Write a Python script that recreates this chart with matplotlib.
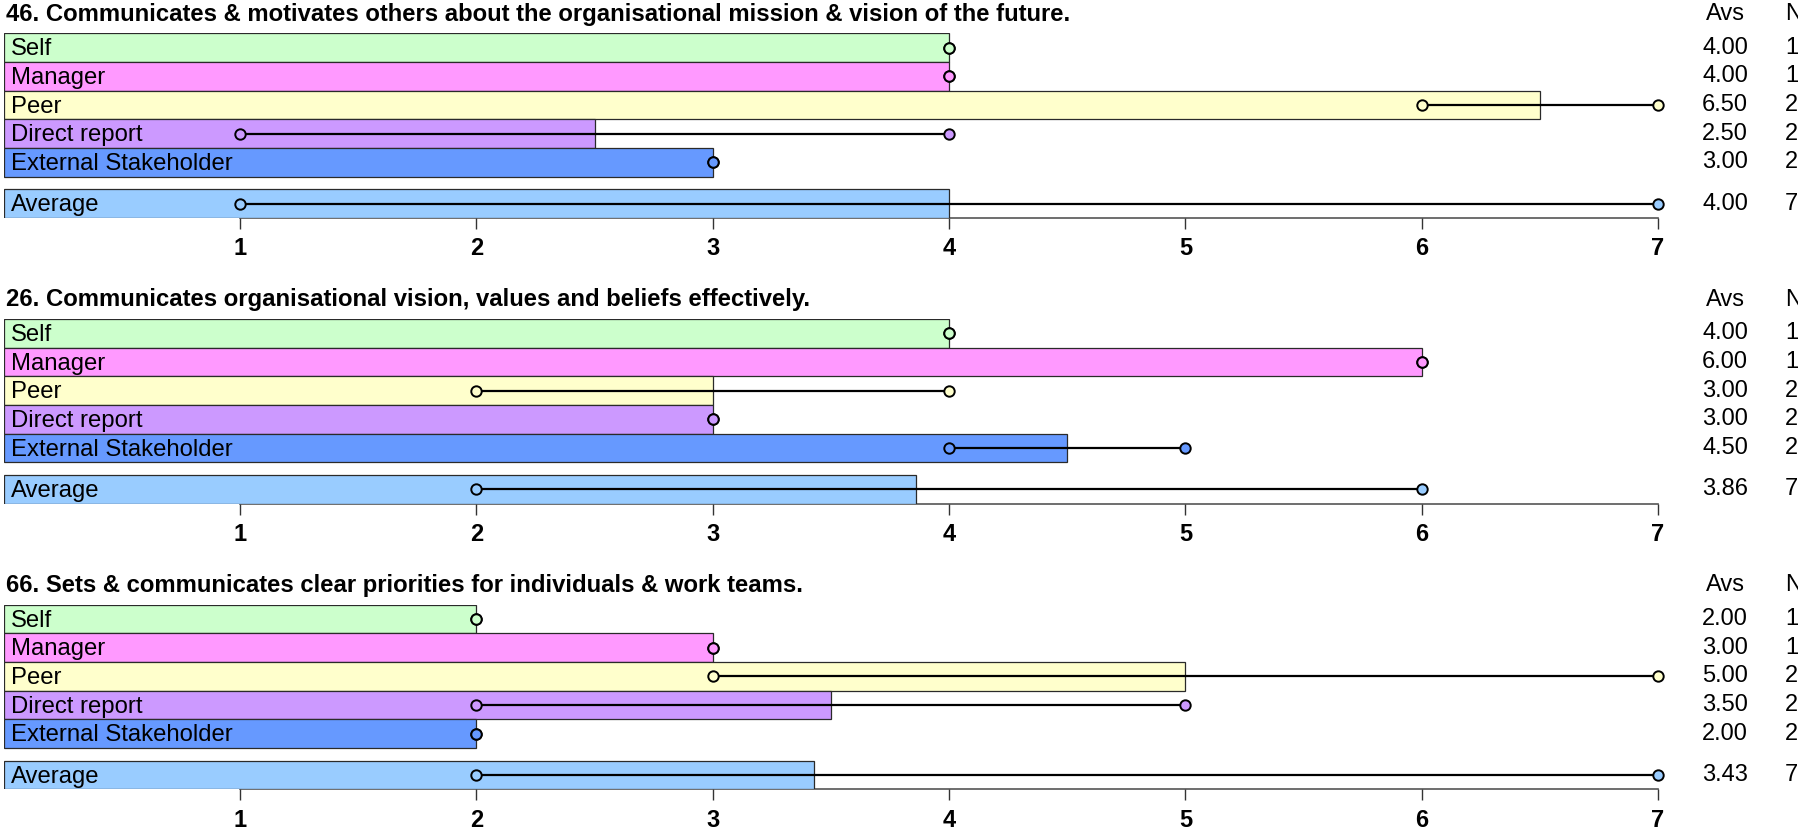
import matplotlib
matplotlib.use("Agg")
import matplotlib.pyplot as plt
from matplotlib.transforms import blended_transform_factory

plt.rcParams['font.family'] = ['Liberation Sans', 'DejaVu Sans']

# Rater groups and their bar colours
groups = ["Self", "Manager", "Peer", "Direct report", "External Stakeholder", "Average"]
colors = ["#CCFFCC", "#FF99FF", "#FFFFCC", "#CC99FF", "#6699FF", "#99CCFF"]

# Item titles
titles = [
    "46. Communicates & motivates others about the organisational mission & vision of the future.",
    "26. Communicates organisational vision, values and beliefs effectively.",
    "66. Sets & communicates clear priorities for individuals & work teams.",
]

# Mean score per group, per item
avs_46 = [4.00, 4.00, 6.50, 2.50, 3.00, 4.00]
avs_26 = [4.00, 6.00, 3.00, 3.00, 4.50, 3.86]
avs_66 = [2.00, 3.00, 5.00, 3.50, 2.00, 3.43]

# Lowest and highest individual ratings per group
min_46 = [4, 4, 6, 1, 3, 1]
max_46 = [4, 4, 7, 4, 3, 7]
min_26 = [4, 6, 2, 3, 4, 2]
max_26 = [4, 6, 4, 3, 5, 6]
min_66 = [2, 3, 3, 2, 2, 2]
max_66 = [2, 3, 7, 5, 2, 7]

# Number of raters per group
n_46 = [1, 1, 2, 2, 2, 7]
n_26 = [1, 1, 2, 2, 2, 7]
n_66 = [1, 1, 2, 2, 2, 7]

ticks = [1, 2, 3, 4, 5, 6, 7]

items = [
    (titles[0], avs_46, min_46, max_46, n_46),
    (titles[1], avs_26, min_26, max_26, n_26),
    (titles[2], avs_66, min_66, max_66, n_66),
]

W, H = 1799, 830
fig = plt.figure(figsize=(W / 100, H / 100), dpi=100)

ypos = [5.44, 4.44, 3.44, 2.44, 1.44, 0.0]
ax_left, ax_right = 3.7, 1658.0
panel_step = 285.7
top0, bot0 = 33.3, 218.0

for p, (title, avs, lo, hi, nn) in enumerate(items):
    off = p * panel_step
    top, bot = top0 + off, bot0 + off
    ax = fig.add_axes([ax_left / W, 1 - bot / H, (ax_right - ax_left) / W, (bot - top) / H])
    ax.set_xlim(0, 7)
    ax.set_ylim(-0.5, 5.94)

    ax.barh(ypos, avs, height=1.0, left=0, color=colors,
            edgecolor="#2a2a2a", linewidth=0.9, zorder=2)

    for y, a, mn, mx, c, g in zip(ypos, avs, lo, hi, colors, groups):
        ax.plot([mn, mx], [y, y], color="black", lw=1.6, zorder=3, clip_on=False)
        ax.plot([mn, mx], [y, y], ls="none", marker="o", ms=7.5,
                mfc=c, mec="black", mew=1.4, zorder=4, clip_on=False)
        ax.text(0.03, y - 0.06, g, ha="left", va="center", fontsize=17.2, zorder=5)

    for s in ["left", "right", "top"]:
        ax.spines[s].set_visible(False)
    ax.spines["bottom"].set_bounds(1, 7)
    ax.spines["bottom"].set_color("#555555")
    ax.spines["bottom"].set_linewidth(1.2)
    ax.spines["bottom"].set_zorder(1)
    ax.set_yticks([])
    ax.set_xticks(ticks)
    ax.set_xticklabels([str(t) for t in ticks], fontsize=17, fontweight="bold")
    ax.tick_params(axis="x", length=8, width=1.0, color="#333333", pad=6)

    # Title and column headers
    fig.text(6 / W, 1 - (14 + off) / H, title, ha="left", va="center",
             fontsize=17.2, fontweight="bold")
    fig.text(1725 / W, 1 - (14 + off) / H, "Avs", ha="center", va="center", fontsize=17)
    fig.text(1785 / W, 1 - (14 + off) / H, "N", ha="left", va="center", fontsize=17)

    tr = blended_transform_factory(fig.transFigure, ax.transData)
    for y, a, n in zip(ypos, avs, nn):
        ax.text(1725 / W, y, f"{a:.2f}", ha="center", va="center", fontsize=17,
                transform=tr, clip_on=False)
        ax.text(1785 / W, y, str(n), ha="left", va="center", fontsize=17,
                transform=tr, clip_on=False)

fig.savefig("out.png", dpi=100)
